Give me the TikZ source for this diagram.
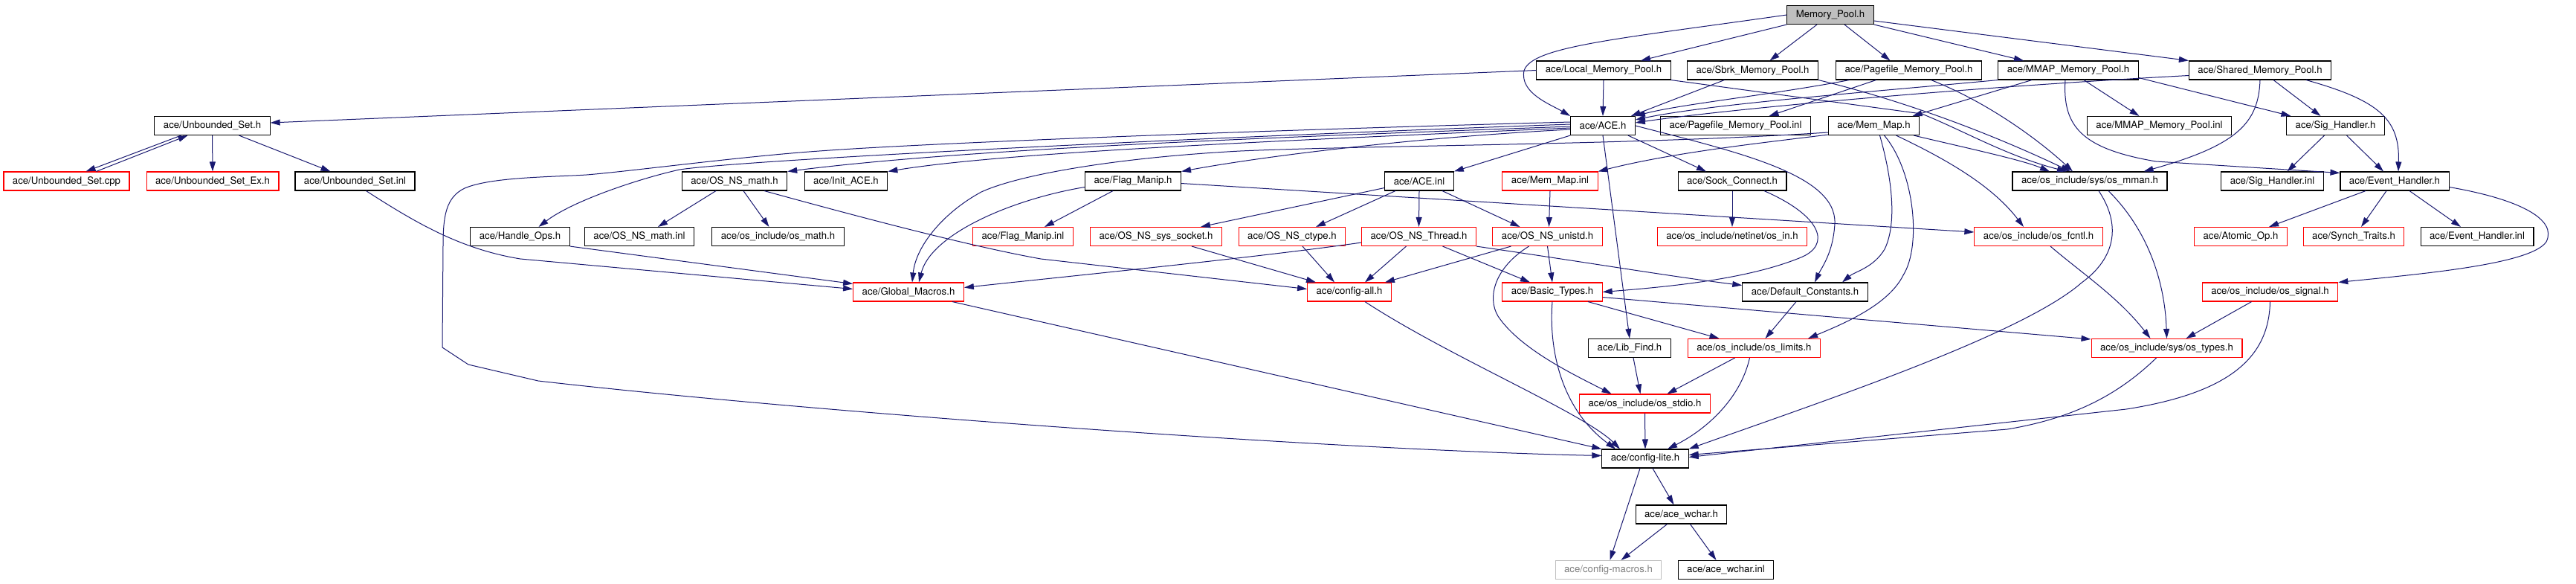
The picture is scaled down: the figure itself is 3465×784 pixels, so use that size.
\documentclass[tikz,border=0pt]{standalone}
\usepackage{fontspec}
\setmainfont{TeX Gyre Heros}
\usepackage{tikz}
\usetikzlibrary{positioning}
\usetikzlibrary{arrows.meta}
\usetikzlibrary{calc}
\definecolor{edgeblue}{HTML}{191970}
\definecolor{boxred}{HTML}{FF0000}
\definecolor{boxgray}{HTML}{BFBFBF}
\definecolor{txtgray}{HTML}{7F7F7F}
\tikzset{
    incnode/.style = {rectangle, line width=0.55pt, draw=black, align=center, fill=white, font=\fontsize{6.6}{8}\selectfont, text=black, minimum height=12.5pt, inner xsep=6pt, inner ysep=1pt},
    incnoder/.style = {incnode, draw=boxred},
    incnodeg/.style = {incnode, draw=boxgray, text=txtgray},
    incnodet/.style = {incnode, fill=boxgray},
    edgen/.style = {-{Triangle[length=6.5pt,width=4pt]}, line width=0.5pt, edgeblue},
}
\begin{document}
\begin{tikzpicture}[x=0.5pt, y=-0.5pt]
\useasboundingbox (0,0) rectangle (3465,784);
\node[incnodet] at (2462, 20) (mp) {Memory\_Pool.h};
\node[incnode] at (2157, 94.5) (lmp) {ace/Local\_Memory\_Pool.h};
\node[incnode] at (2357.5, 94.5) (smp) {ace/Sbrk\_Memory\_Pool.h};
\node[incnode] at (2567.5, 94.5) (pmp) {ace/Pagefile\_Memory\_Pool.h};
\node[incnode] at (2782, 94.5) (mmp) {ace/MMAP\_Memory\_Pool.h};
\node[incnode] at (3040, 94.5) (shmp) {ace/Shared\_Memory\_Pool.h};
%
\node[incnode] at (285.5, 169) (us) {ace/Unbounded\_Set.h};
\node[incnode] at (2156, 169) (ace) {ace/ACE.h};
\node[incnode] at (2334.5, 169) (pmpi) {ace/Pagefile\_Memory\_Pool.inl};
\node[incnode] at (2520.5, 169) (mm) {ace/Mem\_Map.h};
\node[incnode] at (2904.5, 169) (mmpi) {ace/MMAP\_Memory\_Pool.inl};
\node[incnode] at (3141.5, 169) (sig) {ace/Sig\_Handler.h};
%
\node[incnoder] at (89.5, 243.5) (uscpp) {ace/Unbounded\_Set.cpp};
\node[incnoder] at (286, 243.5) (usex) {ace/Unbounded\_Set\_Ex.h};
\node[incnode] at (477.5, 243.5) (usinl) {ace/Unbounded\_Set.inl};
\node[incnode] at (988, 243.5) (nsmath) {ace/OS\_NS\_math.h};
\node[incnode] at (1138, 243.5) (init) {ace/Init\_ACE.h};
\node[incnode] at (1524, 243.5) (flag) {ace/Flag\_Manip.h};
\node[incnode] at (1909, 243.5) (aceinl) {ace/ACE.inl};
\node[incnoder] at (2085, 243.5) (mminl) {ace/Mem\_Map.inl};
\node[incnode] at (2330, 243.5) (sock) {ace/Sock\_Connect.h};
\node[incnode] at (2811, 243.5) (mman) {ace/os\_include/sys/os\_mman.h};
\node[incnode] at (3056.5, 243.5) (sigi) {ace/Sig\_Handler.inl};
\node[incnode] at (3221, 243.5) (eh) {ace/Event\_Handler.h};
%
\node[incnode] at (699.5, 318) (hops) {ace/Handle\_Ops.h};
\node[incnode] at (860, 318) (nsmathi) {ace/OS\_NS\_math.inl};
\node[incnode] at (1046.5, 318) (osmath) {ace/os\_include/os\_math.h};
\node[incnoder] at (1376, 318) (flagi) {ace/Flag\_Manip.inl};
\node[incnoder] at (1555, 318) (nssock) {ace/OS\_NS\_sys\_socket.h};
\node[incnoder] at (1738, 318) (ctype) {ace/OS\_NS\_ctype.h};
\node[incnoder] at (1908.5, 318) (thr) {ace/OS\_NS\_Thread.h};
\node[incnoder] at (2081.5, 318) (unistd) {ace/OS\_NS\_unistd.h};
\node[incnoder] at (2330, 318) (osin) {ace/os\_include/netinet/os\_in.h};
\node[incnoder] at (2742, 318) (fcntl) {ace/os\_include/os\_fcntl.h};
\node[incnoder] at (3014, 318) (atomic) {ace/Atomic\_Op.h};
\node[incnoder] at (3166, 318) (synch) {ace/Synch\_Traits.h};
\node[incnode] at (3332, 318) (ehi) {ace/Event\_Handler.inl};
%
\node[incnoder] at (1222, 392.5) (gm) {ace/Global\_Macros.h};
\node[incnoder] at (1815, 392.5) (cfgall) {ace/config-all.h};
\node[incnoder] at (2088, 392.5) (bt) {ace/Basic\_Types.h};
\node[incnode] at (2428, 392.5) (dc) {ace/Default\_Constants.h};
\node[incnoder] at (3053.5, 392.5) (sigh) {ace/os\_include/os\_signal.h};
%
\node[incnode] at (2192, 468) (lib) {ace/Lib\_Find.h};
\node[incnoder] at (2359.5, 468) (lim) {ace/os\_include/os\_limits.h};
\node[incnoder] at (2914.5, 468) (types) {ace/os\_include/sys/os\_types.h};
\node[incnoder] at (2212.5, 542.5) (stdio) {ace/os\_include/os\_stdio.h};
\node[incnode] at (2213, 616.5) (lite) {ace/config-lite.h};
\node[incnode] at (2261.5, 691.5) (wchar) {ace/ace\_wchar.h};
\node[incnodeg] at (2163.5, 766) (macros) {ace/config-macros.h};
\node[incnode] at (2321.5, 766) (wchari) {ace/ace\_wchar.inl};
%
% Memory_Pool.h and the pools
\draw[edgen] (mp.west) .. controls (2180,52) and (2060,62) .. (2050,95) .. controls (2044,125) and (2085,140) .. (ace.north west);
\draw[edgen] (mp.south west) -- ($(lmp.north)+(50,0)$);
\draw[edgen] ($(mp.south)+(-18,0)$) -- ($(smp.north)+(23,0)$);
\draw[edgen] ($(mp.south)+(19,0)$) -- ($(pmp.north)+(-25,0)$);
\draw[edgen] (mp.south east) -- ($(mmp.north)+(-60,0)$);
\draw[edgen] ($(mp.east)+(0,8)$) -- (shmp.north west);
\draw[edgen] (lmp.south) -- (ace.north);
\draw[edgen] (lmp.west) -- ($(us.east)+(0,-4)$);
\draw[edgen] (lmp.south east) -- (2585,153) .. controls (2640,175) and (2700,210) .. ($(mman.north)+(-31,0)$);
\draw[edgen] ($(smp.south)+(-38,0)$) -- ($(ace.north east)+(-6,0)$);
\draw[edgen] (smp.south east) .. controls (2580,140) and (2700,190) .. ($(mman.north)+(-26,0)$);
\draw[edgen] ($(pmp.south)+(-80,0)$) .. controls (2380,128) and (2260,140) .. (ace.north east);
\draw[edgen] ($(pmp.south)+(-44,0)$) -- ($(pmpi.north)+(45,0)$);
\draw[edgen] ($(pmp.south)+(30,0)$) .. controls (2680,140) and (2750,195) .. ($(mman.north)+(-23,0)$);
\draw[edgen] (mmp.south west) .. controls (2500,125) and (2300,140) .. ($(ace.east)+(0,-8)$);
\draw[edgen] ($(mmp.south)+(-49,0)$) -- ($(mm.north)+(52,0)$);
\draw[edgen] ($(mmp.south)+(21,0)$) -- ($(mmpi.north)+(-27,0)$);
\draw[edgen] ($(mmp.east)+(0,10)$) -- ($(sig.north)+(-60,0)$);
\draw[edgen] ($(mmp.south)+(-4,0)$) .. controls (2774,170) and (2800,200) .. (2900,217) -- ($(eh.north west)+(0,2)$);
\draw[edgen] ($(shmp.west)+(0,7)$) .. controls (2600,120) and (2300,150) .. ($(ace.east)+(0,-4)$);
\draw[edgen] (shmp.south) .. controls (3038,165) and (3010,195) .. ($(mman.north east)+(-32,0)$);
\draw[edgen] ($(shmp.south)+(18,0)$) -- ($(sig.north)+(-20,0)$);
\draw[edgen] ($(shmp.south)+(62,0)$) .. controls (3200,135) and (3228,160) .. ($(eh.north)+(5,0)$);
\draw[edgen] ($(sig.south)+(-15,0)$) -- ($(sigi.north)+(20,0)$);
\draw[edgen] ($(sig.south)+(15,0)$) -- ($(eh.north)+(-15,0)$);
\draw[edgen] ($(eh.south)+(-39,0)$) -- ($(atomic.north)+(38,0)$);
\draw[edgen] ($(eh.south)+(-11,0)$) -- ($(synch.north)+(10,0)$);
\draw[edgen] ($(eh.south)+(20,0)$) -- ($(ehi.north)+(-22,0)$);
\draw[edgen] ($(eh.east)+(0,8)$) .. controls (3390,268) and (3440,295) .. (3425,325) .. controls (3405,355) and (3260,368) .. (sigh.north east);
%
% ACE.h
\draw[edgen] ($(ace.west)+(0,-2)$) .. controls (1600,185) and (1000,215) .. (914,228) .. controls (860,240) and (770,270) .. ($(hops.north)+(25,0)$);
\draw[edgen] ($(ace.west)+(0,1)$) .. controls (1700,185) and (1300,200) .. (nsmath.north east);
\draw[edgen] ($(ace.west)+(0,3)$) .. controls (1700,190) and (1350,205) .. (init.north east);
\draw[edgen] ($(ace.west)+(0,5)$) .. controls (1900,185) and (1700,210) .. (flag.north east);
\draw[edgen] ($(ace.west)+(0,-5)$) .. controls (1700,175) and (1250,192) .. (1102,203) .. controls (1000,210) and (850,230) .. (789,235) .. controls (740,238) and (660,238) .. (625,253) .. controls (600,265) and (596,290) .. (596,330) -- (595,467) -- (630,490) -- (724,512) .. controls (1100,555) and (1800,605) .. ($(lite.west)+(0,-4)$);
\draw[edgen] (ace.south west) -- (aceinl.north east);
\draw[edgen] ($(ace.south east)+(-10,0)$) -- ($(sock.north)+(-35,0)$);
\draw[edgen] (ace.east) .. controls (2340,205) and (2470,235) .. (2468,300) .. controls (2466,340) and (2450,360) .. ($(dc.north)+(13,0)$);
\draw[edgen] (ace.south) -- (lib.north);
%
% Mem_Map.h
\draw[edgen] ($(mm.south west)+(0,-1)$) .. controls (2370,192) and (2250,205) .. (mminl.north east);
\draw[edgen] ($(mm.west)+(0,9)$) .. controls (2200,195) and (1850,195) .. (1668,203) .. controls (1500,212) and (1370,235) .. (1320,258) .. controls (1270,285) and (1232,330) .. ($(gm.north)+(5,0)$);
\draw[edgen] ($(mm.south east)+(-8,0)$) .. controls (2650,200) and (2720,215) .. ($(mman.north)+(-54,0)$);
\draw[edgen] ($(mm.south)+(30,0)$) .. controls (2620,215) and (2680,250) .. ($(fcntl.north)+(-20,0)$);
\draw[edgen] ($(mm.south)+(8,0)$) .. controls (2545,240) and (2552,300) .. (2535,335) .. controls (2520,360) and (2495,365) .. ($(dc.north)+(50,0)$);
\draw[edgen] ($(mm.south)+(14,0)$) .. controls (2575,230) and (2585,330) .. (2560,370) .. controls (2540,410) and (2480,435) .. ($(lim.north east)+(-17,0)$);
%
% Flag_Manip.h, ACE.inl and the OS_NS headers
\draw[edgen] ($(flag.west)+(0,8)$) .. controls (1360,268) and (1252,315) .. ($(gm.north)+(14,0)$);
\draw[edgen] ($(flag.south)+(-27,0)$) -- ($(flagi.north)+(29,0)$);
\draw[edgen] ($(flag.east)+(0,3)$) -- ($(fcntl.west)+(0,-6)$);
\draw[edgen] ($(aceinl.west)+(0,9)$) -- ($(nssock.north)+(60,0)$);
\draw[edgen] ($(aceinl.south)+(-32,0)$) -- ($(ctype.north)+(32,0)$);
\draw[edgen] (aceinl.south) -- (thr.north);
\draw[edgen] ($(aceinl.south)+(31,0)$) -- ($(unistd.north)+(-37,0)$);
\draw[edgen] (mminl.south) -- ($(unistd.north)+(2,0)$);
\draw[edgen] ($(nssock.south)+(48,0)$) -- ($(cfgall.north)+(-45,0)$);
\draw[edgen] ($(ctype.south)+(14,0)$) -- ($(cfgall.north)+(-20,0)$);
\draw[edgen] ($(thr.south)+(-17,0)$) -- ($(cfgall.north)+(21,0)$);
\draw[edgen] ($(unistd.south)+(-49,0)$) -- ($(cfgall.north east)+(-9,0)$);
\draw[edgen] ($(thr.south)+(32,0)$) -- ($(bt.north)+(-30,0)$);
\draw[edgen] (unistd.south) -- (bt.north);
\draw[edgen] (thr.south east) .. controls (2150,355) and (2250,372) .. ($(dc.west)+(0,-9)$);
\draw[edgen] ($(thr.west)+(0,8)$) .. controls (1700,345) and (1450,370) .. ($(gm.east)+(0,-6)$);
\draw[edgen] ($(unistd.south)+(-25,0)$) .. controls (2010,360) and (2000,400) .. (2015,425) .. controls (2045,470) and (2120,505) .. ($(stdio.north)+(-45,0)$);
\draw[edgen] (sock.south) -- (osin.north);
\draw[edgen] ($(sock.south)+(43,0)$) .. controls (2450,290) and (2465,330) .. (2420,347) .. controls (2350,375) and (2250,385) .. (bt.east);
%
% lower headers
\draw[edgen] ($(dc.south)+(-12,0)$) -- ($(lim.north)+(15,0)$);
\draw[edgen] ($(bt.south)+(48,0)$) -- ($(lim.north)+(-47,0)$);
\draw[edgen] ($(bt.east)+(0,7)$) -- ($(types.north west)+(0,1)$);
\draw[edgen] (bt.south) .. controls (2083,470) and (2100,550) .. ($(lite.north)+(-40,0)$);
\draw[edgen] ($(lib.south)+(5,0)$) -- ($(stdio.north)+(-6,0)$);
\draw[edgen] ($(lim.south)+(-26,0)$) -- ($(stdio.north)+(30,0)$);
\draw[edgen] ($(lim.south)+(-6,0)$) .. controls (2340,540) and (2290,580) .. ($(lite.north)+(30,0)$);
\draw[edgen] (stdio.south) -- (lite.north);
\draw[edgen] ($(cfgall.south)+(21,0)$) .. controls (1950,480) and (2130,555) .. ($(lite.north)+(-34,0)$);
\draw[edgen] ($(gm.south)+(59,0)$) -- (lite.north west);
\draw[edgen] ($(types.south)+(-14,0)$) .. controls (2850,530) and (2790,562) .. (2700,577) -- ($(lite.east)+(0,-5)$);
\draw[edgen] (sigh.south) .. controls (3052,480) and (3000,528) .. (2860,550) -- ($(lite.east)+(0,-2)$);
\draw[edgen] ($(sigh.south)+(-25,0)$) -- ($(types.north)+(26,0)$);
\draw[edgen] ($(mman.south)+(12,0)$) .. controls (2852,300) and (2848,345) .. (2800,380) .. controls (2720,450) and (2450,540) .. (lite.north east);
\draw[edgen] ($(mman.south)+(25,0)$) .. controls (2890,310) and (2912,380) .. (types.north);
\draw[edgen] ($(fcntl.south)+(16,0)$) .. controls (2800,367) and (2850,400) .. ($(types.north)+(-22,0)$);
\draw[edgen] ($(lite.south)+(-7,0)$) -- ($(macros.north)+(2,0)$);
\draw[edgen] ($(lite.south)+(10,0)$) -- ($(wchar.north)+(-10,0)$);
\draw[edgen] ($(wchar.south)+(-19,0)$) -- ($(macros.north)+(17,0)$);
\draw[edgen] ($(wchar.south)+(12,0)$) -- ($(wchari.north)+(-13,0)$);
%
% left part
\draw[edgen] ($(usinl.south)+(15,0)$) .. controls (560,300) and (620,335) .. (700,348) -- ($(gm.west)+(0,-4)$);
\draw[edgen] (hops.south east) -- ($(gm.west)+(0,-11)$);
\draw[edgen] ($(nsmath.south)+(-25,0)$) -- ($(nsmathi.north)+(25,0)$);
\draw[edgen] ($(nsmath.south)+(12,0)$) -- ($(osmath.north)+(-12,0)$);
\draw[edgen] ($(nsmath.south)+(40,0)$) .. controls (1150,290) and (1300,330) .. (1400,348) -- ($(cfgall.west)+(0,-4)$);
\draw[edgen] ($(us.south)+(-42,0)$) -- ($(uscpp.north)+(26,0)$);
\draw[edgen] ($(uscpp.north)+(40,0)$) -- ($(us.south)+(-33,0)$);
\draw[edgen] (us.south) -- (usex.north);
\draw[edgen] ($(us.south)+(36,0)$) -- ($(usinl.north)+(-33,0)$);
\end{tikzpicture}
\end{document}
